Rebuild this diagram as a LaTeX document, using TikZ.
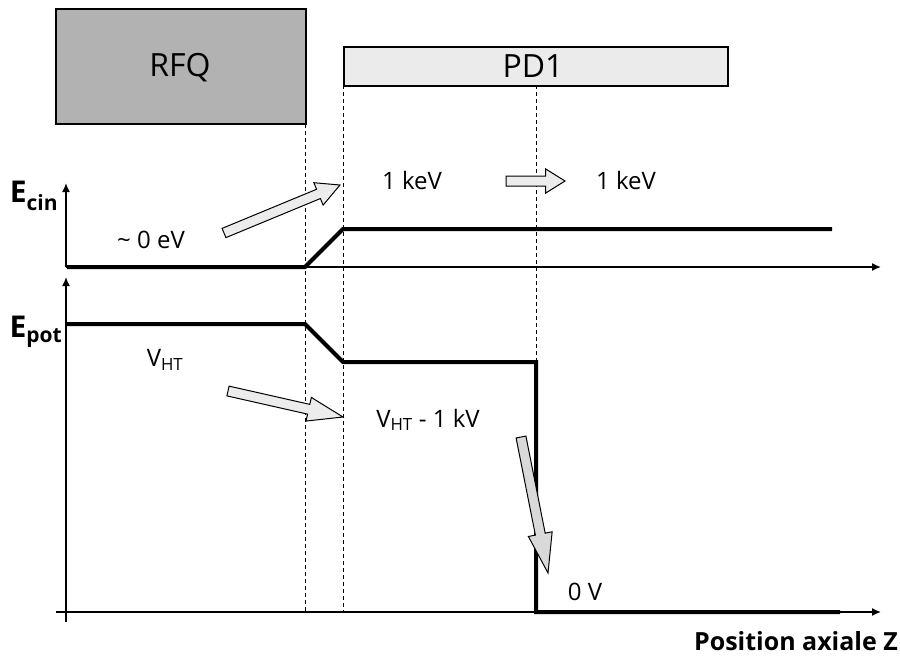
\documentclass[tikz,border=0pt]{standalone}
\usepackage{fontspec}
\setmainfont{Open Sans}
\usetikzlibrary{shapes.arrows,calc,arrows.meta}
\begin{document}
\begin{tikzpicture}[x=1pt,y=-1pt,
  thickcurve/.style={line width=4pt,line join=miter},
  axis/.style={line width=1.5pt,-{Latex[length=9pt,width=8pt]}},
  guide/.style={line width=0.9pt,dash pattern=on 4pt off 3pt},
  lbl/.style={inner sep=0pt,font=\fontsize{24}{28}\selectfont},
  blbl/.style={inner sep=0pt,font=\bfseries\fontsize{24}{28}\selectfont},
  blockarrow/.style={single arrow,draw=black,line width=1pt,fill=#1,
    inner sep=0pt,single arrow head indent=0pt,anchor=tail,outer sep=0pt},
  blockarrow/.default={gray!15}]
\useasboundingbox (0,0) rectangle (900,657);
% component boxes
\node[draw,line width=1.8pt,fill=black!30,minimum width=250pt,minimum height=115pt,inner sep=0pt,anchor=north west] (rfq) at (55,8) {};
\node[lbl,font=\fontsize{32}{36}\selectfont] (rfqt) at (180,68) {RFQ};
\node[draw,line width=1.8pt,fill=black!8,minimum width=384pt,minimum height=39pt,inner sep=0pt,anchor=north west] (pd1) at (343,46) {};
\node[lbl,font=\fontsize{32}{36}\selectfont] (pd1t) at (533,66) {PD1};
% coordinates
\coordinate (g1t) at (305,124);
\coordinate (g1b) at (305,612);
\coordinate (g2t) at (343,85);
\coordinate (g2b) at (343,612);
\coordinate (g3t) at (536,85);
\coordinate (g3b) at (536,362);
\draw[guide] (g1t) -- (g1b);
\draw[guide] (g2t) -- (g2b);
\draw[guide] (g3t) -- (g3b);
% axes
\coordinate (o1) at (66,267);
\coordinate (y1) at (66,183);
\coordinate (x1) at (881,267);
\coordinate (o2) at (66,612);
\coordinate (o2b) at (66,622);
\coordinate (o2l) at (56,612);
\coordinate (y2) at (66,277);
\coordinate (x2) at (881,612);
\draw[axis] (o1) -- (y1);
\draw[axis] (o1) -- (x1);
\draw[axis] (o2b) -- (y2);
\draw[axis] (o2l) -- (x2);
% curves
\coordinate (c1) at (67,267);
\coordinate (c2) at (305,267);
\coordinate (c3) at (343,229);
\coordinate (c4) at (832,229);
\draw[thickcurve] (c1) -- (c2) -- (c3) -- (c4);
\coordinate (p1) at (67,324);
\coordinate (p2) at (305,324);
\coordinate (p3) at (343,362);
\coordinate (p4) at (536,362);
\coordinate (p5) at (536,612);
\coordinate (p6) at (840,612);
\draw[thickcurve] (p1) -- (p2) -- (p3) -- (p4) -- (p5) -- (p6);
% labels
\node[blbl,font=\bfseries\fontsize{30}{34}\selectfont] (ecin) at (34,196) {E\textsubscript{cin}};
\node[blbl,font=\bfseries\fontsize{30}{34}\selectfont] (epot) at (36,332) {E\textsubscript{pot}};
\node[lbl] (l0) at (151,240) {\textasciitilde\ 0 eV};
\node[lbl] (l1) at (412,180) {1 keV};
\node[lbl] (l2) at (626,180) {1 keV};
\node[lbl] (lv) at (165,360) {V\textsubscript{HT}};
\node[lbl] (lv1) at (428,420) {V\textsubscript{HT} - 1 kV};
\node[lbl] (lz) at (585,592) {0 V};
\node[blbl,font=\bfseries\fontsize{25}{29}\selectfont] (lpos) at (796,641) {Position axiale Z};
% block arrows
\coordinate (a1s) at (224,233); \coordinate (a1e) at (340,185);
\coordinate (a2s) at (506,181); \coordinate (a2e) at (565,181);
\coordinate (a3s) at (228,391); \coordinate (a3e) at (343,417);
\coordinate (a4s) at (521,437); \coordinate (a4e) at (548,573);
\path let \p1=($(a1e)-(a1s)$) in node[blockarrow,minimum height={veclen(\x1,\y1)},minimum width=22pt,inner ysep=4.5pt,single arrow tip angle=55,rotate={atan2(\y1,\x1)}] (arr1) at (a1s) {};
\path let \p1=($(a2e)-(a2s)$) in node[blockarrow,minimum height={veclen(\x1,\y1)},minimum width=19pt,inner ysep=4.5pt,single arrow tip angle=64,rotate={atan2(\y1,\x1)}] (arr2) at (a2s) {};
\path let \p1=($(a3e)-(a3s)$) in node[blockarrow,minimum height={veclen(\x1,\y1)},minimum width=19pt,inner ysep=4.5pt,single arrow tip angle=38,rotate={atan2(\y1,\x1)}] (arr3) at (a3s) {};
\path let \p1=($(a4e)-(a4s)$) in node[blockarrow=gray!30,minimum height={veclen(\x1,\y1)},minimum width=20pt,inner ysep=4.5pt,single arrow tip angle=34,rotate={atan2(\y1,\x1)}] (arr4) at (a4s) {};
\end{tikzpicture}
\end{document}
